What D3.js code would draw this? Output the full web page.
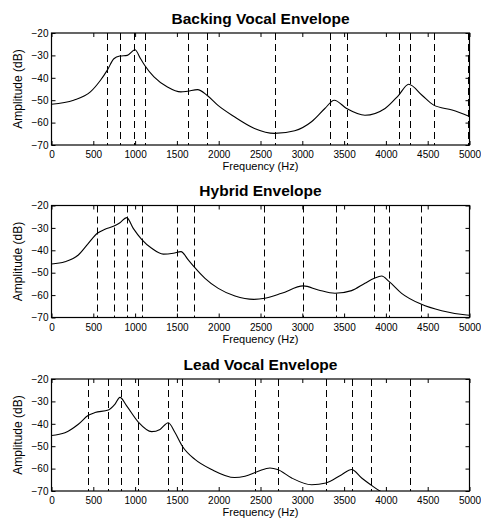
<!DOCTYPE html>
<html>
<head>
<meta charset="utf-8">
<script src="https://cdn.jsdelivr.net/npm/d3@7"></script>
<style>
  body { margin: 0; background: #fff; }
  svg { display: block; font-family: "Liberation Sans", Arial, Helvetica, sans-serif; }
</style>
</head>
<body>
<svg id="chart" width="481" height="519"></svg>
<script>
// ---- data ----
const xTicks = [0, 500, 1000, 1500, 2000, 2500, 3000, 3500, 4000, 4500, 5000];
const yTicks = [-20, -30, -40, -50, -60, -70];

const titles = ["Backing Vocal Envelope", "Hybrid Envelope", "Lead Vocal Envelope"];

// backing vocal envelope
const backingFreq = [0, 265, 465, 586, 666, 746, 817, 906, 998, 1066, 1114, 1226, 1387, 1547, 1627, 1747, 1860, 1988, 2188, 2428, 2668, 2909, 3110, 3270, 3382, 3530, 3750, 3990, 4152, 4272, 4432, 4572, 4792, 5000];
const backingDb   = [-51.8, -50, -46.3, -41.1, -36.7, -31.5, -30.3, -30, -27.5, -31.5, -34.4, -39.6, -44.1, -46.3, -46, -45.3, -47.8, -52.2, -57.4, -62.6, -64.8, -63.6, -59.6, -53.7, -50, -53.7, -56.7, -53.7, -47.8, -42.9, -47.8, -52.2, -54.4, -57.3];
const backingLines = [666, 817, 990, 1114, 1627, 1860, 2668, 3330, 3530, 4152, 4291, 4572, 4985];

// hybrid envelope
const hybridFreq = [0, 161, 321, 441, 548, 640, 748, 819, 899, 978, 1078, 1198, 1337, 1457, 1549, 1636, 1704, 1836, 1995, 2195, 2420, 2553, 2753, 3012, 3191, 3391, 3590, 3749, 3861, 3949, 4040, 4188, 4419, 4667, 4966, 5000];
const hybridDb   = [-46.1, -45.1, -42.1, -36.9, -32.4, -30.6, -29.2, -27.7, -25.4, -30.2, -35.1, -39.1, -41.7, -41.3, -40.6, -44.3, -47.3, -52.5, -57, -60.4, -61.9, -61.4, -59.2, -55.9, -57.7, -59.2, -58, -54.7, -52.5, -51.5, -54, -59.2, -64, -67, -68.9, -69];
const hybridLines = [548, 748, 899, 1078, 1505, 1704, 2545, 3012, 3399, 3861, 4040, 4419];

// lead vocal envelope
const leadFreq = [0, 161, 321, 441, 520, 680, 760, 819, 899, 1038, 1198, 1298, 1397, 1477, 1565, 1716, 1916, 2190, 2314, 2473, 2613, 2705, 2873, 3112, 3283, 3471, 3590, 3710, 3818, 3929, 3960];
const leadDb   = [-45.2, -44, -40.2, -36.2, -35, -33.8, -31.2, -28.2, -32, -39.2, -43.5, -42.5, -39.5, -43.9, -50, -55.9, -60.4, -64, -63.4, -61.2, -59.7, -60.4, -64.2, -67.2, -66.4, -62.7, -60.4, -64.2, -67.2, -70, -70.6];
const leadLines = [441, 680, 827, 1038, 1397, 1565, 2434, 2705, 3283, 3590, 3818, 4288];

const panels = [
  { title: titles[0], freq: backingFreq, db: backingDb, lines: backingLines, top: 33 },
  { title: titles[1], freq: hybridFreq, db: hybridDb, lines: hybridLines, top: 205.5 },
  { title: titles[2], freq: leadFreq, db: leadDb, lines: leadLines, top: 379 },
];

// ---- layout ----
const left = 51.5;
const right = 469.5;
const plotH = 112;
const tickLen = 4;

const svg = d3.select("#chart");
svg.append("rect").attr("width", 481).attr("height", 519).attr("fill", "#fff");

const x = d3.scaleLinear().domain([0, 5000]).range([left, right]);

panels.forEach((p, i) => {
  const y = d3.scaleLinear().domain([-70, -20]).range([p.top + plotH, p.top]);
  const g = svg.append("g");

  const clipId = "clip" + i;
  svg.append("clipPath").attr("id", clipId)
    .append("rect")
    .attr("x", left).attr("y", p.top)
    .attr("width", right - left).attr("height", plotH);

  // dashed marker lines
  g.append("g")
    .selectAll("line")
    .data(p.lines)
    .join("line")
    .attr("x1", (d) => Math.round(x(d)) + 0.5)
    .attr("x2", (d) => Math.round(x(d)) + 0.5)
    .attr("y1", p.top)
    .attr("y2", p.top + plotH)
    .attr("stroke", "#000")
    .attr("stroke-width", 1)
    .attr("stroke-dasharray", "7,4");

  // envelope curve
  const pts = p.freq.map((f, k) => [f, p.db[k]]);
  g.append("path")
    .datum(pts)
    .attr("clip-path", `url(#${clipId})`)
    .attr("fill", "none")
    .attr("stroke", "#000")
    .attr("stroke-width", 1.1)
    .attr("d", d3.line()
      .x((d) => x(d[0]))
      .y((d) => y(d[1]))
      .curve(d3.curveMonotoneX));

  // axes: ticks inward on all four sides
  const bottom = g.append("g")
    .attr("transform", `translate(0,${p.top + plotH})`)
    .call(d3.axisBottom(x).tickValues(xTicks).tickSizeInner(-tickLen).tickSizeOuter(0).tickPadding(6).tickFormat(d3.format("d")));
  const topAxis = g.append("g")
    .attr("transform", `translate(0,${p.top})`)
    .call(d3.axisTop(x).tickValues(xTicks).tickSizeInner(-tickLen).tickSizeOuter(0).tickFormat(""));
  const leftAxis = g.append("g")
    .attr("transform", `translate(${left},0)`)
    .call(d3.axisLeft(y).tickValues(yTicks).tickSizeInner(-tickLen).tickSizeOuter(0).tickPadding(3)
      .tickFormat((d) => String(d).replace("-", "\u2212")));
  const rightAxis = g.append("g")
    .attr("transform", `translate(${right},0)`)
    .call(d3.axisRight(y).tickValues(yTicks).tickSizeInner(-tickLen).tickSizeOuter(0).tickFormat(""));

  [bottom, topAxis, leftAxis, rightAxis].forEach((a) => {
    a.select(".domain").remove();
    a.selectAll("line").attr("stroke", "#000");
    a.selectAll("text").attr("fill", "#000").style("font-size", "10px")
      .style("font-family", "'Liberation Sans', Arial, sans-serif");
  });

  // box
  g.append("rect")
    .attr("x", left).attr("y", p.top)
    .attr("width", right - left).attr("height", plotH)
    .attr("fill", "none").attr("stroke", "#000").attr("stroke-width", 1.2);

  // labels
  g.append("text")
    .attr("x", (left + right) / 2)
    .attr("y", p.top - 9.5)
    .attr("text-anchor", "middle")
    .style("font-size", "15.5px")
    .style("font-weight", "bold")
    .text(p.title);

  g.append("text")
    .attr("x", (left + right) / 2)
    .attr("y", p.top + plotH + 25)
    .attr("text-anchor", "middle")
    .style("font-size", "11px")
    .text("Frequency (Hz)");

  g.append("text")
    .attr("transform", `translate(22,${p.top + plotH / 2}) rotate(-90)`)
    .attr("text-anchor", "middle")
    .style("font-size", "12px")
    .text("Amplitude (dB)");
});
</script>
</body>
</html>
